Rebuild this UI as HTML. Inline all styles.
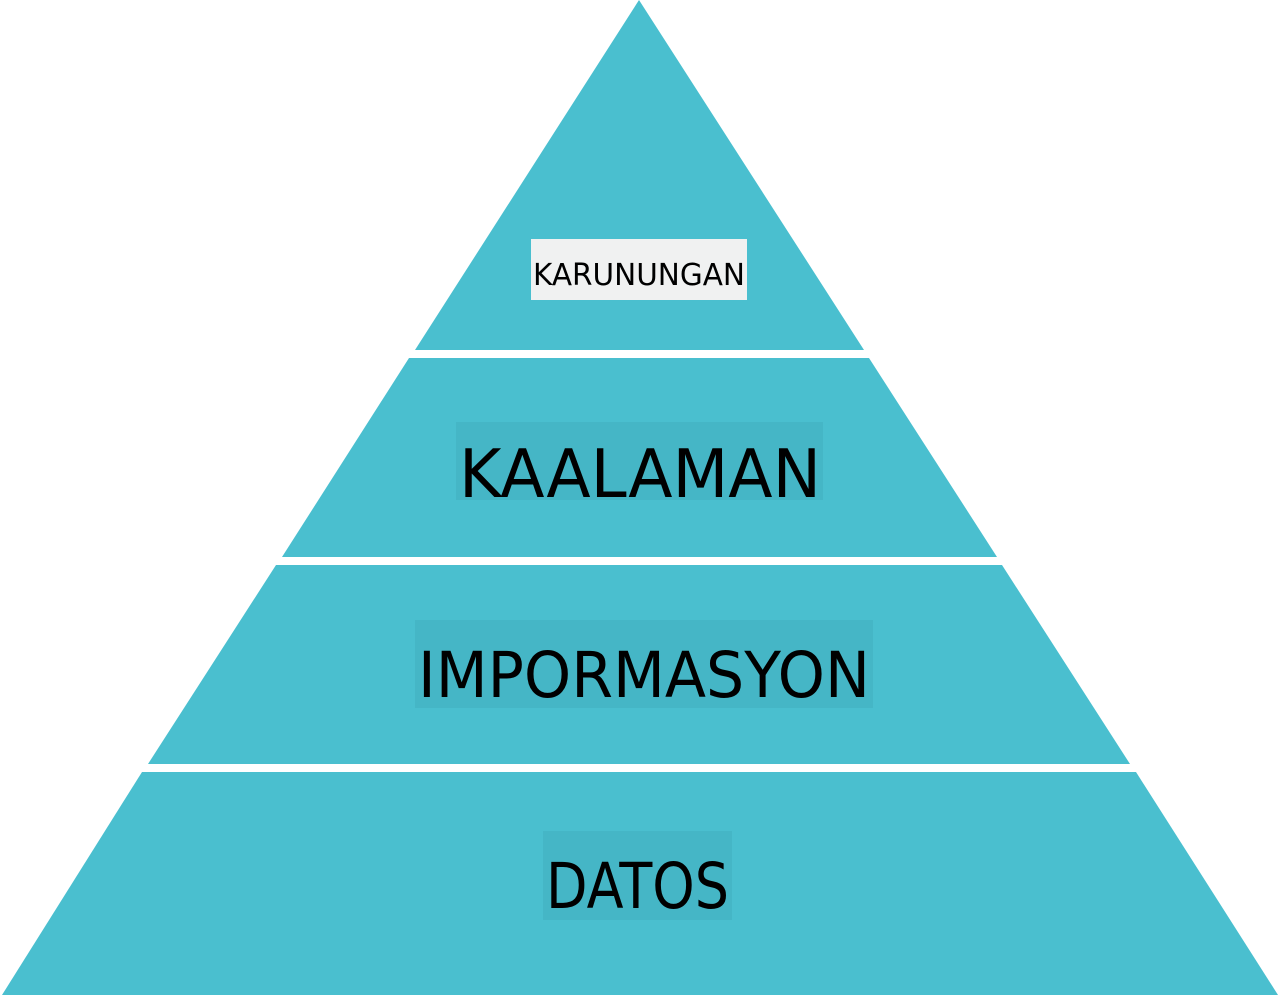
<!DOCTYPE html>
<html><head><style>html,body{margin:0;padding:0;background:#fff}svg{display:block}</style></head>
<body>
<svg width="1280" height="998" viewBox="0 0 1280 998" xmlns="http://www.w3.org/2000/svg" font-family="'DejaVu Sans', 'Liberation Sans', sans-serif">
<g fill="#4ABFCF">
<polygon points="639,0 864,350 415,350"/>
<polygon points="409,358 869,358 997,557 282,557"/>
<polygon points="276,565 1002,565 1130,764 148,764"/>
<polygon points="142,772 1136,772 1278,995 2,995"/>
</g>
<rect x="531" y="239" width="216" height="61" fill="#F0F1F1"/>
<rect x="456" y="422" width="367" height="78" fill="#45B6C6"/>
<rect x="415" y="620" width="458" height="88" fill="#45B6C6"/>
<rect x="543" y="831" width="189" height="89" fill="#45B6C6"/>
<g fill="#000">
<text x="533" y="285" font-size="30" textLength="212" lengthAdjust="spacingAndGlyphs">KARUNUNGAN</text>
<text x="459" y="497" font-size="67" textLength="362" lengthAdjust="spacingAndGlyphs">KAALAMAN</text>
<text x="418" y="697" font-size="63" textLength="452" lengthAdjust="spacingAndGlyphs">IMPORMASYON</text>
<text x="546" y="908" font-size="63" textLength="183" lengthAdjust="spacingAndGlyphs">DATOS</text>
</g>
</svg>
</body></html>
